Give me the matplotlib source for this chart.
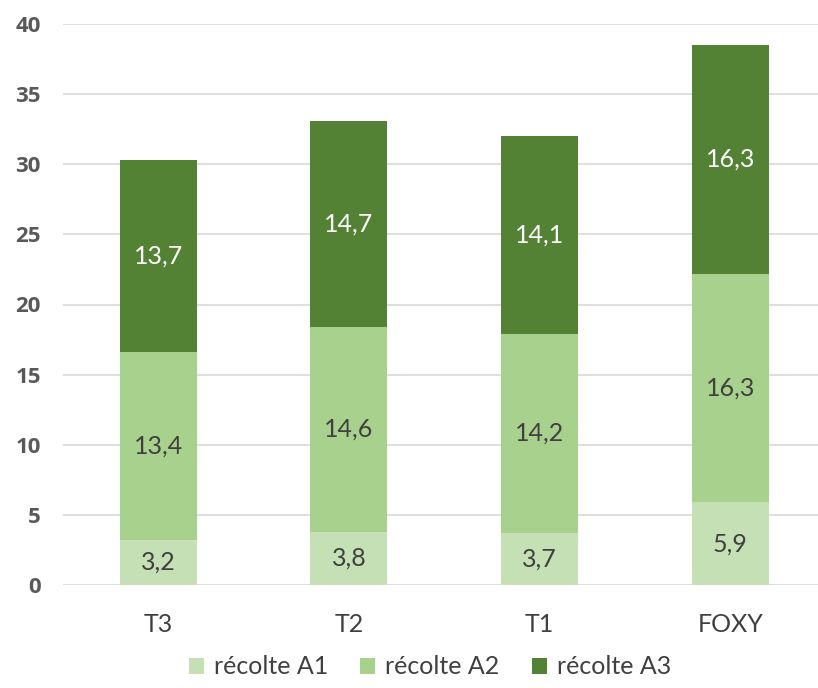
import numpy as np
import matplotlib.pyplot as plt

plt.rcParams['font.family'] = ['Lato', 'DejaVu Sans']

categories = ['T3', 'T2', 'T1', 'FOXY']
series_names = ['récolte A1', 'récolte A2', 'récolte A3']
a1 = [3.2, 3.8, 3.7, 5.9]
a2 = [13.4, 14.6, 14.2, 16.3]
a3 = [13.7, 14.7, 14.1, 16.3]
y_ticks = [0, 5, 10, 15, 20, 25, 30, 35, 40]

colors = ['#C5E0B4', '#A9D18E', '#548235']
text_colors = ['#404040', '#404040', 'white']

fig = plt.figure(figsize=(8.18, 6.88), dpi=100)
ax = fig.add_axes([63 / 818, 103 / 688, 755 / 818, 561 / 688])

x = np.arange(len(categories))
wid = 0.404
bottom = np.zeros(len(categories))
for vals, name, c, tc in zip([a1, a2, a3], series_names, colors, text_colors):
    vals = np.array(vals)
    ax.bar(x, vals, width=wid, bottom=bottom, color=c, label=name, zorder=3)
    for xi, b, v in zip(x, bottom, vals):
        ax.text(xi, b + v / 2, f'{v:.1f}'.replace('.', ','), ha='center', va='center',
                fontsize=18, color=tc, zorder=4)
    bottom += vals

ax.set_xlim(-0.5, 3.46)
ax.set_ylim(0, 40)
ax.set_yticks(y_ticks)
ax.set_yticklabels([str(t) for t in y_ticks], fontsize=16, fontweight='bold', color='#595959',
                   family=['Open Sans', 'DejaVu Sans'])
ax.set_xticks(x)
ax.set_xticklabels(categories, fontsize=18, color='#404040')
ax.tick_params(axis='both', length=0)
ax.tick_params(axis='y', pad=16)
ax.tick_params(axis='x', pad=20)
ax.yaxis.grid(True, color='#D9D9D9', lw=1.2, zorder=0)
for s in ax.spines.values():
    s.set_visible(False)

fig.legend(loc='center', bbox_to_anchor=(430 / 818, 1 - 667 / 688), ncol=3, frameon=False,
           fontsize=18, handlelength=0.6, handleheight=0.6, columnspacing=1.3, handletextpad=0.4,
           labelcolor='#404040')

fig.savefig('out.png', dpi=100)
